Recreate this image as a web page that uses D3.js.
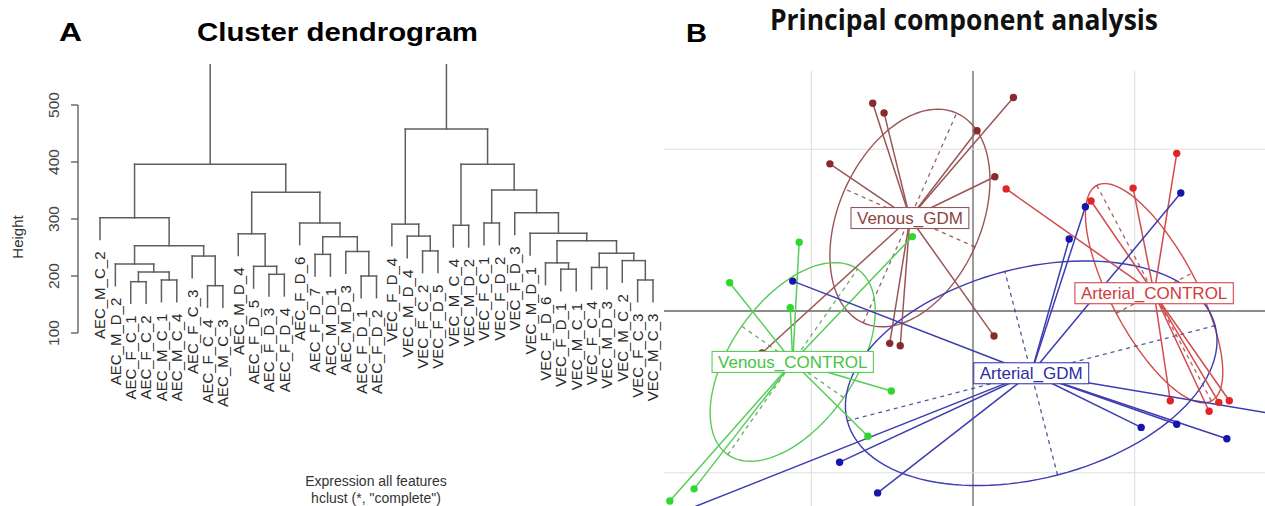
<!DOCTYPE html>
<html>
<head>
<meta charset="utf-8">
<script src="https://cdn.jsdelivr.net/npm/d3@7"></script>
<style>
body { margin: 0; background: #fff; }
svg { font-family: "Liberation Sans", Arial, sans-serif; }
</style>
</head>
<body>
<div id="chart"></div>
<script>
// ---- Panel A: dendrogram data ----
// leaves in plotted order, left to right
let leafLabels = [
  "AEC_M_C_2", "AEC_M_D_2", "AEC_F_C_1", "AEC_F_C_2", "AEC_M_C_1", "AEC_M_C_4",
  "AEC_F_C_3", "AEC_F_C_4", "AEC_M_C_3", "AEC_M_D_4", "AEC_F_D_5", "AEC_F_D_3",
  "AEC_F_D_4", "AEC_F_D_6", "AEC_F_D_7", "AEC_M_D_1", "AEC_M_D_3", "AEC_F_D_1",
  "AEC_F_D_2", "VEC_F_D_4", "VEC_M_D_4", "VEC_F_C_2", "VEC_F_D_5", "VEC_M_C_4",
  "VEC_M_D_2", "VEC_F_C_1", "VEC_F_D_2", "VEC_F_D_3", "VEC_M_D_1", "VEC_F_D_6",
  "VEC_F_D_1", "VEC_M_C_1", "VEC_F_C_4", "VEC_M_D_3", "VEC_M_C_2", "VEC_F_C_3",
  "VEC_M_C_3"
];

// merges: [left, right, height]; a string is a leaf, a number an earlier merge
let merges = [
  ["AEC_F_C_1", "AEC_F_C_2", 190],  // 0
  ["AEC_M_C_1", "AEC_M_C_4", 193],  // 1
  [0, 1, 207],                      // 2
  ["AEC_M_D_2", 2, 221],            // 3
  ["AEC_F_C_4", "AEC_M_C_3", 183],  // 4
  ["AEC_F_C_3", 4, 235],            // 5
  [3, 5, 253],                      // 6
  ["AEC_M_C_2", 6, 302],            // 7
  ["AEC_F_D_3", "AEC_F_D_4", 203],  // 8
  ["AEC_F_D_5", 8, 217],            // 9
  ["AEC_M_D_4", 9, 274],            // 10
  ["AEC_F_D_7", "AEC_M_D_1", 238],  // 11
  ["AEC_F_D_1", "AEC_F_D_2", 200],  // 12
  ["AEC_M_D_3", 12, 243],           // 13
  [11, 13, 269],                    // 14
  ["AEC_F_D_6", 14, 293],           // 15
  [10, 15, 347],                    // 16
  [7, 16, 396],                     // 17
  ["VEC_F_C_2", "VEC_F_D_5", 244],  // 18
  ["VEC_M_D_4", 18, 270],           // 19
  ["VEC_F_D_4", 19, 291],           // 20
  ["VEC_M_C_4", "VEC_M_D_2", 289],  // 21
  ["VEC_F_C_1", "VEC_F_D_2", 293],  // 22
  ["VEC_F_D_1", "VEC_M_C_1", 212],  // 23
  ["VEC_F_D_6", 23, 223],           // 24
  ["VEC_F_C_4", "VEC_M_D_3", 215],  // 25
  ["VEC_F_C_3", "VEC_M_C_3", 193],  // 26
  ["VEC_M_C_2", 26, 227],           // 27
  [25, 27, 240],                    // 28
  [24, 28, 262],                    // 29
  ["VEC_M_D_1", 29, 275],           // 30
  ["VEC_F_D_3", 30, 311],           // 31
  [22, 31, 351],                    // 32
  [21, 32, 396],                    // 33
  [20, 33, 458],                    // 34
  [17, 34, 575]                     // 35 root
];
let hang = 38;
let heightTicks = [100, 200, 300, 400, 500];

// ---- Panel B: PCA data (PC1, PC2 scores) ----
let groupNames = ["Venous_GDM", "Venous_CONTROL", "Arterial_CONTROL", "Arterial_GDM"];
let venousGdm = [[-12.4, 25.7], [-11.0, 24.5], [-17.7, 18.2], [0.5, 22.3], [5.0, 26.4],
  [2.7, 16.6], [-10.3, -4.0], [-9.0, -4.3], [2.6, -3.1], [-26.1, -5.2]];
let venousControl = [[-21.5, 8.5], [-30.1, 3.5], [-7.5, 9.2], [-22.6, 0.4], [-10.1, -9.9],
  [-13.0, -15.5], [-34.5, -22.0], [-37.5, -23.5]];
let arterialControl = [[25.2, 19.5], [19.8, 15.2], [4.1, 15.1], [14.6, 13.6], [24.4, -11.1],
  [29.2, -12.4], [30.4, -11.3], [31.7, -11.1]];
let arterialGdm = [[25.7, 14.6], [13.9, 12.9], [11.9, 8.9], [-22.3, 3.7], [-16.5, -18.7],
  [-11.8, -22.5], [20.8, -14.4], [25.2, -14.0], [31.4, -15.8], [-44.5, -28.2], [41.8, -13.5]];
let groupCenters = [[-7.8, 11.5], [-22.3, -6.3], [22.4, 2.2], [7.2, -7.7]];
// ellipse: [semi-major, semi-minor, angle in degrees]
let groupEllipses = [[14.2, 8.8, 66], [14.0, 7.7, 55], [15.1, 5.3, -62], [23.5, 13.0, 14.5]];
let gridTicks = [-20, 0, 20];

let groupPoints = [venousGdm, venousControl, arterialControl, arterialGdm];
let pointColors = ["#8a2a2a", "#2fd82f", "#e12424", "#1616ae"];
let lineColors = ["#9a5656", "#58cc58", "#d24b4b", "#3d3db2"];
let textColors = ["#8d4444", "#45c445", "#cf3c3c", "#2c2ca2"];

let width = 1265, height = 506;
let svg = d3.select("#chart").append("svg")
    .attr("width", width)
    .attr("height", height);

// ---------------- Panel A ----------------
let x = d3.scalePoint().domain(leafLabels).range([100, 653]);
let y = d3.scaleLinear().domain([100, 500]).range([333, 105]);

svg.append("defs").append("clipPath").attr("id", "clipA")
  .append("rect").attr("x", 0).attr("y", 64).attr("width", 660).attr("height", 442);
svg.append("defs").append("clipPath").attr("id", "clipB")
  .append("rect").attr("x", 664).attr("y", 71).attr("width", 601).attr("height", 435);

let dendro = svg.append("g").attr("clip-path", "url(#clipA)");

function nodeX(n) {
  if (typeof n === "string") return x(n);
  return (nodeX(merges[n][0]) + nodeX(merges[n][1])) / 2;
}

let segs = [];
merges.forEach(function(m) {
  let h = m[2];
  let x0 = nodeX(m[0]), x1 = nodeX(m[1]);
  segs.push([x0, y(h), x1, y(h)]);
  [m[0], m[1]].forEach(function(c) {
    let top = typeof c === "string" ? h - hang : merges[c][2];
    segs.push([nodeX(c), y(top), nodeX(c), y(h)]);
  });
});

dendro.selectAll(".seg")
  .data(segs)
  .enter().append("line")
  .attr("class", "seg")
  .attr("x1", d => d[0]).attr("y1", d => d[1])
  .attr("x2", d => d[2]).attr("y2", d => d[3])
  .attr("stroke", "#5e5e5e")
  .attr("stroke-width", 1.5)
  .attr("stroke-linecap", "square");

// leaf tips, used for labels
let leafTop = {};
merges.forEach(function(m) {
  [m[0], m[1]].forEach(function(c) {
    if (typeof c === "string") leafTop[c] = m[2] - hang;
  });
});

svg.selectAll(".leaf")
  .data(leafLabels)
  .enter().append("text")
  .attr("class", "leaf")
  .attr("transform", d => "translate(" + x(d) + "," + (y(leafTop[d]) + 12) + ") rotate(-90)")
  .attr("dy", "0.36em")
  .attr("text-anchor", "end")
  .attr("font-size", 15)
  .attr("fill", "#2a2a2a")
  .text(d => d);

// y axis, R style
let yAxis = svg.append("g").attr("transform", "translate(78,0)");
yAxis.append("line")
  .attr("x1", 0).attr("x2", 0)
  .attr("y1", y(100)).attr("y2", y(500))
  .attr("stroke", "#555").attr("stroke-width", 1.3);
yAxis.selectAll(".tk")
  .data(heightTicks)
  .enter().append("line")
  .attr("x1", -7).attr("x2", 0)
  .attr("y1", d => y(d)).attr("y2", d => y(d))
  .attr("stroke", "#555").attr("stroke-width", 1.3);
yAxis.selectAll(".tl")
  .data(heightTicks)
  .enter().append("text")
  .attr("transform", d => "translate(-19," + y(d) + ") rotate(-90)")
  .attr("text-anchor", "middle")
  .attr("font-size", 15.5)
  .attr("fill", "#444")
  .text(d => d);

svg.append("text")
  .attr("transform", "translate(23,237) rotate(-90)")
  .attr("text-anchor", "middle")
  .attr("font-size", 15)
  .attr("fill", "#333")
  .text("Height");

svg.append("text")
  .attr("x", 376).attr("y", 486)
  .attr("text-anchor", "middle")
  .attr("font-size", 14)
  .attr("fill", "#333")
  .text("Expression all features");
svg.append("text")
  .attr("x", 376).attr("y", 503)
  .attr("text-anchor", "middle")
  .attr("font-size", 14)
  .attr("fill", "#333")
  .text("hclust (*, \"complete\")");

svg.append("text")
  .attr("x", 59).attr("y", 41)
  .attr("font-size", 25).attr("font-weight", "bold")
  .attr("textLength", 23).attr("lengthAdjust", "spacingAndGlyphs")
  .text("A");
svg.append("text")
  .attr("x", 197).attr("y", 41)
  .attr("font-size", 25).attr("font-weight", "bold")
  .attr("textLength", 281).attr("lengthAdjust", "spacingAndGlyphs")
  .text("Cluster dendrogram");

// ---------------- Panel B ----------------
svg.append("text")
  .attr("x", 686).attr("y", 42)
  .attr("font-size", 25).attr("font-weight", "bold")
  .attr("textLength", 21).attr("lengthAdjust", "spacingAndGlyphs")
  .text("B");
svg.append("text")
  .attr("x", 770).attr("y", 30)
  .attr("font-family", "'Open Sans', 'Noto Sans', sans-serif")
  .attr("font-size", 28).attr("font-weight", "bold")
  .attr("fill", "#111")
  .attr("textLength", 388).attr("lengthAdjust", "spacingAndGlyphs")
  .text("Principal component analysis");

let px = d3.scaleLinear().domain([-20, 20]).range([811.3, 1134.7]);
let py = d3.scaleLinear().domain([-20, 20]).range([472.7, 149.3]);

let pca = svg.append("g").attr("clip-path", "url(#clipB)");

pca.selectAll(".gx")
  .data(gridTicks)
  .enter().append("line")
  .attr("x1", d => px(d)).attr("x2", d => px(d))
  .attr("y1", 71).attr("y2", height)
  .attr("stroke", d => d === 0 ? "#666" : "#dedede")
  .attr("stroke-width", d => d === 0 ? 1.3 : 1.1);
pca.selectAll(".gy")
  .data(gridTicks)
  .enter().append("line")
  .attr("x1", 664).attr("x2", width)
  .attr("y1", d => py(d)).attr("y2", d => py(d))
  .attr("stroke", d => d === 0 ? "#666" : "#dedede")
  .attr("stroke-width", d => d === 0 ? 1.3 : 1.1);

function ellipsePoints(c, e) {
  let th = e[2] * Math.PI / 180;
  return d3.range(0, 361, 3).map(function(deg) {
    let t = deg * Math.PI / 180;
    let u = e[0] * Math.cos(t), v = e[1] * Math.sin(t);
    return [c[0] + u * Math.cos(th) - v * Math.sin(th), c[1] + u * Math.sin(th) + v * Math.cos(th)];
  });
}
let line = d3.line().x(d => px(d[0])).y(d => py(d[1]));

groupNames.forEach(function(name, i) {
  let c = groupCenters[i], e = groupEllipses[i];
  let th = e[2] * Math.PI / 180;
  let g = pca.append("g");
  g.append("path")
    .attr("d", line(ellipsePoints(c, e)))
    .attr("fill", "none")
    .attr("stroke", lineColors[i])
    .attr("stroke-width", 1.4);
  let axes = [
    [[c[0] - e[0] * Math.cos(th), c[1] - e[0] * Math.sin(th)], [c[0] + e[0] * Math.cos(th), c[1] + e[0] * Math.sin(th)]],
    [[c[0] + e[1] * Math.sin(th), c[1] - e[1] * Math.cos(th)], [c[0] - e[1] * Math.sin(th), c[1] + e[1] * Math.cos(th)]]
  ];
  g.selectAll(".ax")
    .data(axes)
    .enter().append("path")
    .attr("d", d => line(d))
    .attr("stroke", d3.color(lineColors[i]).darker(0.8))
    .attr("stroke-opacity", 0.8)
    .attr("stroke-width", 1.3)
    .attr("stroke-dasharray", "4,4");
});

groupNames.forEach(function(name, i) {
  let c = groupCenters[i];
  pca.append("g").selectAll(".star")
    .data(groupPoints[i])
    .enter().append("line")
    .attr("x1", d => px(d[0])).attr("y1", d => py(d[1]))
    .attr("x2", px(c[0])).attr("y2", py(c[1]))
    .attr("stroke", lineColors[i])
    .attr("stroke-width", 1.5);
});

groupNames.forEach(function(name, i) {
  pca.append("g").selectAll(".pt")
    .data(groupPoints[i])
    .enter().append("circle")
    .attr("cx", d => px(d[0])).attr("cy", d => py(d[1]))
    .attr("r", 3.7)
    .attr("fill", pointColors[i]);
});

groupNames.forEach(function(name, i) {
  let c = groupCenters[i];
  let g = pca.append("g");
  let rect = g.append("rect");
  let t = g.append("text")
    .attr("x", px(c[0])).attr("y", py(c[1]))
    .attr("dy", "0.36em")
    .attr("text-anchor", "middle")
    .attr("font-size", 17)
    .attr("fill", textColors[i])
    .text(name);
  let bb = t.node().getBBox();
  rect.attr("x", bb.x - 6).attr("y", py(c[1]) - 10.5)
    .attr("width", bb.width + 12).attr("height", 21)
    .attr("fill", "#fff")
    .attr("stroke", lineColors[i])
    .attr("stroke-width", 1.1);
});
</script>
</body>
</html>
